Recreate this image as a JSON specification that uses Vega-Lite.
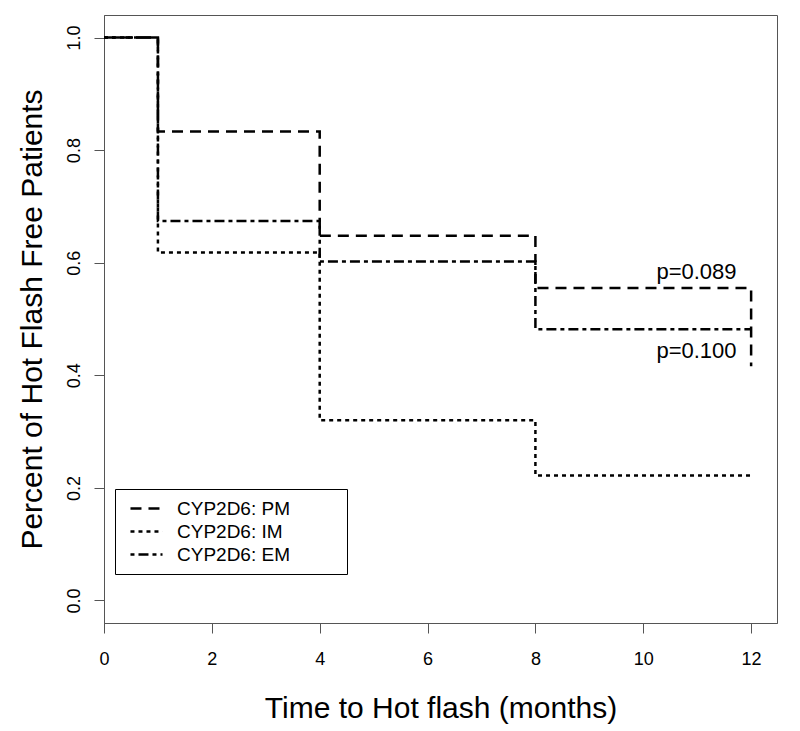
{
  "$schema": "https://vega.github.io/schema/vega-lite/v6.json",
  "width": 673,
  "height": 608,
  "autosize": {"type": "none"},
  "padding": {"left": 104, "top": 15, "right": 23, "bottom": 108},
  "background": "white",
  "config": {
    "font": "Liberation Sans",
    "view": {"stroke": "#555555", "strokeWidth": 1},
    "axis": {
      "grid": false,
      "domainColor": "#555555",
      "tickColor": "#555555",
      "tickSize": 10,
      "labelColor": "black",
      "titleColor": "black",
      "labelFont": "Liberation Sans",
      "titleFont": "Liberation Sans",
      "labelFontSize": 18,
      "titleFontSize": 30,
      "titleFontWeight": "normal",
      "labelFlush": false
    }
  },
  "datasets": {
    "km": [
      {"group": "CYP2D6: PM", "time": 0, "surv": 1.0},
      {"group": "CYP2D6: PM", "time": 1, "surv": 0.833},
      {"group": "CYP2D6: PM", "time": 4, "surv": 0.648},
      {"group": "CYP2D6: PM", "time": 8, "surv": 0.555},
      {"group": "CYP2D6: PM", "time": 12, "surv": 0.555},
      {"group": "CYP2D6: PM", "time": 12.0001, "surv": 0.416},
      {"group": "CYP2D6: IM", "time": 0, "surv": 1.0},
      {"group": "CYP2D6: IM", "time": 1, "surv": 0.618},
      {"group": "CYP2D6: IM", "time": 4, "surv": 0.320},
      {"group": "CYP2D6: IM", "time": 8, "surv": 0.222},
      {"group": "CYP2D6: IM", "time": 12, "surv": 0.222},
      {"group": "CYP2D6: EM", "time": 0, "surv": 1.0},
      {"group": "CYP2D6: EM", "time": 1, "surv": 0.674},
      {"group": "CYP2D6: EM", "time": 4, "surv": 0.602},
      {"group": "CYP2D6: EM", "time": 8, "surv": 0.482},
      {"group": "CYP2D6: EM", "time": 12, "surv": 0.482}
    ],
    "notes": [
      {"label": "p=0.089", "time": 11.73, "surv": 0.583},
      {"label": "p=0.100", "time": 11.73, "surv": 0.443}
    ]
  },
  "layer": [
    {
      "data": {"name": "km"},
      "mark": {"type": "line", "interpolate": "step-after", "strokeWidth": 2.5, "color": "black", "strokeCap": "butt"},
      "encoding": {
        "x": {
          "field": "time", "type": "quantitative",
          "scale": {"domain": [0, 12.48], "nice": false, "zero": false},
          "axis": {"values": [0, 2, 4, 6, 8, 10, 12], "title": "Time to Hot flash (months)", "labelPadding": 17, "titlePadding": 25}
        },
        "y": {
          "field": "surv", "type": "quantitative",
          "scale": {"domain": [-0.04, 1.04], "nice": false, "zero": false},
          "axis": {"values": [0, 0.2, 0.4, 0.6, 0.8, 1.0], "format": ".1f", "labelAngle": -90, "labelAlign": "center", "labelBaseline": "bottom", "labelPadding": 11, "title": "Percent of Hot Flash Free Patients", "titlePadding": 18}
        },
        "detail": {"field": "group"},
        "strokeDash": {
          "field": "group", "type": "nominal",
          "scale": {"domain": ["CYP2D6: PM", "CYP2D6: IM", "CYP2D6: EM"], "range": [[11, 7], [4, 4], [4, 4, 10, 4]]},
          "legend": {
            "title": null,
            "orient": "none",
            "legendX": 11,
            "legendY": 474,
            "strokeColor": "black",
            "fillColor": "white",
            "padding": 9,
            "symbolType": "M-1.78,0H1.78",
            "symbolSize": 324,
            "symbolOffset": 12,
            "symbolStrokeWidth": 2.5,
            "symbolStrokeColor": "black",
            "labelFontSize": 19,
            "labelColor": "black",
            "labelOffset": 20,
            "labelLimit": 400,
            "rowPadding": 2,
            "labelExpr": "datum.label + '\u00a0\u00a0\u00a0\u00a0\u00a0\u00a0\u00a0\u00a0\u00a0\u200b'"
          }
        }
      }
    },
    {
      "data": {"name": "notes"},
      "mark": {"type": "text", "align": "right", "baseline": "middle", "fontSize": 22, "color": "black"},
      "encoding": {
        "x": {"field": "time", "type": "quantitative"},
        "y": {"field": "surv", "type": "quantitative"},
        "text": {"field": "label"}
      }
    }
  ]
}
